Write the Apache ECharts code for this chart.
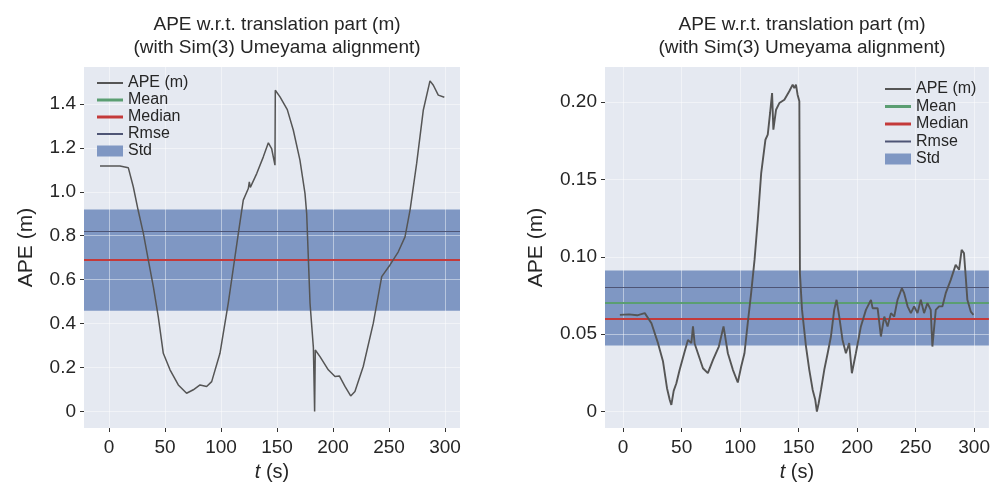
<!DOCTYPE html>
<html><head><meta charset="utf-8">
<script src="https://cdn.jsdelivr.net/npm/echarts@6/dist/echarts.min.js"></script>
<style>html,body{margin:0;padding:0;background:#fff}#c{width:993px;height:490px}</style>
</head><body><div id="c"></div>
<script>
// ---- data ----
const xTicks = [0, 50, 100, 150, 200, 250, 300];
const leftYTicks = [0, 0.2, 0.4, 0.6, 0.8, 1.0, 1.2, 1.4];
const rightYTicks = [0, 0.05, 0.10, 0.15, 0.20];
const legendNames = ['APE (m)', 'Mean', 'Median', 'Rmse', 'Std'];

const leftT = [-8, 9.8, 17.3, 21.7, 26, 30.7, 35.1, 39.6, 44, 48.5,
  54.5, 61.9, 69.3, 75.3, 81.3, 87.2, 91.7, 99.1, 106.5, 115.5,
  119.9, 124.4, 125.3, 126.2, 131.9, 137.8, 142.3, 145.2, 148.2, 148.5,
  152.7, 159.2, 164.6, 170.5, 175, 176.5, 179.5, 182.5, 183.6, 184.2,
  188.4, 195.8, 201.8, 205.7, 210.7, 215.8, 219.6, 227, 236, 243.5,
  250.9, 258.3, 264.3, 268.8, 274.7, 280.6, 286.6, 289.6, 294, 299.4];
const leftAPE = [1.117, 1.117, 1.109, 1.023, 0.917, 0.811, 0.69, 0.568, 0.432, 0.265,
  0.19, 0.121, 0.083, 0.099, 0.121, 0.114, 0.136, 0.265, 0.493, 0.811,
  0.962, 1.015, 1.045, 1.02, 1.083, 1.159, 1.223, 1.197, 1.121, 1.462,
  1.432, 1.374, 1.28, 1.144, 0.993, 0.902, 0.493, 0.29, 0.0, 0.28,
  0.25, 0.19, 0.159, 0.162, 0.114, 0.071, 0.091, 0.205, 0.402, 0.614,
  0.667, 0.727, 0.795, 0.917, 1.129, 1.371, 1.505, 1.485, 1.44, 1.43];
// mean, median, rmse, std
const leftStats = [0.6895, 0.688, 0.825, 0.2305];

const rightT = [-2.8, 5, 12, 18.5, 24.2, 29.8, 34.1, 37.5, 39.8, 41.2,
  43.2, 45.5, 48.3, 52.6, 55.4, 58.3, 59.7, 61.1, 63.9, 68.2,
  72.4, 76.8, 81.8, 85.8, 89.5, 93.8, 98, 100.9, 103.7, 106.5,
  109.4, 112.3, 115.1, 118, 121.6, 123.6, 125.6, 127.3, 128.4, 130.7,
  133.5, 137.8, 142, 144.9, 146.3, 147.7, 149.1, 150.6, 151.1, 152.9,
  156.3, 159.1, 162, 164.2, 165.6, 167.1, 169.1, 171.9, 174.8, 177.6,
  180.4, 182.4, 184.7, 187.5, 190.4, 193.2, 195.5, 198.9, 203.2, 207.5,
  211.8, 213.2, 217.5, 220.3, 223.2, 226, 228.9, 231.7, 234.5, 238.2,
  240.2, 243.1, 245.9, 248.7, 251.6, 254.4, 257.2, 260.1, 262.9, 264.3,
  265.8, 267.2, 270, 272.9, 275.7, 280, 284.2, 287.1, 289.3, 291.3,
  292.8, 294.2, 297.1, 299.4];
const rightAPE = [0.0625, 0.0628, 0.0622, 0.0636, 0.0571, 0.0442, 0.0323, 0.0151, 0.0076, 0.0043,
  0.0134, 0.0183, 0.027, 0.0388, 0.0463, 0.0442, 0.055, 0.044, 0.0377, 0.028,
  0.0248, 0.0334, 0.042, 0.055, 0.0377, 0.027, 0.0188, 0.0291, 0.0377, 0.0571,
  0.0765, 0.098, 0.1239, 0.1541, 0.1756, 0.1789, 0.1929, 0.2058, 0.1821, 0.195,
  0.1993, 0.2015, 0.2069, 0.2112, 0.209, 0.2112, 0.2047, 0.2004, 0.0894, 0.0657,
  0.042, 0.027, 0.014, 0.0076, 0.0, 0.0054, 0.014, 0.027, 0.0377, 0.0485,
  0.0657, 0.0722, 0.0614, 0.0463, 0.0377, 0.0442, 0.0248, 0.0377, 0.055, 0.0657,
  0.0722, 0.0668, 0.0668, 0.0485, 0.0614, 0.055, 0.0636, 0.0614, 0.0722, 0.0797,
  0.0765, 0.068, 0.0636, 0.068, 0.0636, 0.0722, 0.0636, 0.0701, 0.0657, 0.042,
  0.042, 0.0657, 0.068, 0.068, 0.0765, 0.0851, 0.0948, 0.0916, 0.1045, 0.1024,
  0.0872, 0.0722, 0.0646, 0.0625];
const rightStats = [0.0669, 0.0584, 0.0817, 0.0242];

// ---- style ----
const FONT = "'Liberation Sans', Arial, sans-serif";
const TXT = '#262626';
const C_APE = '#555555', C_MEAN = '#5b9e72', C_MED = '#c43a3a', C_RMSE = '#4e5575', C_STD = '#7f97c3';
const BG = '#e5e9f1';

const chart = echarts.init(document.getElementById('c'));

const panels = [
  {t: leftT, v: leftAPE, s: leftStats, yt: leftYTicks, dec: 1, left: 84, right: 533, xmin: -22.3, xmax: 313.4, ymin: -0.075, ymax: 1.568, nameGap: 47, cx: 272, lw: 1.5},
  {t: rightT, v: rightAPE, s: rightStats, yt: rightYTicks, dec: 2, left: 605, right: 3, xmin: -15.5, xmax: 312.6, ymin: -0.0106, ymax: 0.2226, nameGap: 58, cx: 797, lw: 1.9}
];

const grid = [], xAxis = [], yAxis = [], series = [], title = [], legend = [];
const thin = 'path://M0,0H26V2H0Z', thick = 'path://M0,0H26V3H0Z';

panels.forEach((p, i) => {
  grid.push({left: p.left, right: p.right, top: 67, bottom: 62, show: true, backgroundColor: BG, borderWidth: 0});
  xAxis.push({
    type: 'value', gridIndex: i, min: p.xmin, max: p.xmax,
    axisLine: {show: false, onZero: false}, splitLine: {show: false},
    axisTick: {show: true, customValues: xTicks, length: 4, lineStyle: {color: '#333', width: 1}},
    axisLabel: {customValues: xTicks, fontSize: 19, color: TXT, margin: 10, fontFamily: FONT},
    name: '{i|t} (s)', nameLocation: 'middle', nameGap: 34,
    nameTextStyle: {fontSize: 20, color: TXT, fontFamily: FONT, rich: {i: {fontStyle: 'italic', fontSize: 20, color: TXT, fontFamily: FONT}}}
  });
  yAxis.push({
    type: 'value', gridIndex: i, min: p.ymin, max: p.ymax,
    axisLine: {show: false, onZero: false}, splitLine: {show: false},
    axisTick: {show: true, customValues: p.yt, length: 4, lineStyle: {color: '#333', width: 1}},
    axisLabel: {customValues: p.yt, fontSize: 19, color: TXT, margin: 8, fontFamily: FONT,
      formatter: v => (Math.abs(v) < 1e-9 ? '0' : v.toFixed(p.dec))},
    name: 'APE (m)', nameLocation: 'middle', nameGap: p.nameGap, nameRotate: 90,
    nameTextStyle: {fontSize: 21, color: TXT, fontFamily: FONT}
  });
  title.push({
    text: 'APE w.r.t. translation part (m)\n(with Sim(3) Umeyama alignment)',
    left: p.cx, top: 8, textAlign: 'center',
    textStyle: {fontSize: 19, fontWeight: 'normal', color: TXT, lineHeight: 23, fontFamily: FONT}
  });
  const [mean, median, rmse, std] = p.s;
  // grid lines
  series.push({
    type: 'line', name: '_grid' + i, xAxisIndex: i, yAxisIndex: i, data: [], z: 1, silent: true,
    markLine: {silent: true, symbol: 'none', label: {show: false}, animation: false,
      lineStyle: {color: 'rgba(255,255,255,0.45)', width: 1, type: 'solid'},
      data: xTicks.map(x => ({xAxis: x})).concat(p.yt.map(y => ({yAxis: y})))}
  });
  series.push({
    type: 'line', name: 'Std', xAxisIndex: i, yAxisIndex: i, data: [], z: 2, color: C_STD,
    markArea: {silent: true, animation: false, itemStyle: {color: C_STD, opacity: 1},
      data: [[{yAxis: mean - std}, {yAxis: mean + std}]]}
  });
  const hl = (name, val, color, width) => ({
    type: 'line', name, xAxisIndex: i, yAxisIndex: i, data: [], z: 3, color,
    markLine: {silent: true, symbol: 'none', label: {show: false}, animation: false,
      lineStyle: {color, width, type: 'solid', opacity: 1}, data: [{yAxis: val}]}
  });
  series.push(hl('Mean', mean, C_MEAN, 2));
  series.push(hl('Rmse', rmse, C_RMSE, 1.2));
  series.push(hl('Median', median, C_MED, 2));
  series.push({
    type: 'line', name: 'APE (m)', xAxisIndex: i, yAxisIndex: i, z: 5, color: C_APE,
    showSymbol: false, symbol: 'none', animation: false,
    lineStyle: {color: C_APE, width: p.lw},
    data: p.t.map((t, k) => [t, p.v[k]])
  });
});

const legendData = [
  {name: 'APE (m)', icon: thin}, {name: 'Mean', icon: thick}, {name: 'Median', icon: thick},
  {name: 'Rmse', icon: thin}, {name: 'Std', icon: 'rect'}
];
const legendText = {fontSize: 16, lineHeight: 16, color: TXT, fontFamily: FONT};
legend.push({orient: 'vertical', left: 97, top: 75, padding: 0, itemWidth: 26, itemHeight: 11, itemGap: 1,
  data: legendData, selectedMode: false, textStyle: legendText, z: 10});
legend.push({orient: 'vertical', left: 885, top: 81, padding: 0, itemWidth: 26, itemHeight: 11, itemGap: 1.5,
  data: legendData, selectedMode: false, textStyle: legendText, z: 10});

chart.setOption({animation: false, backgroundColor: '#ffffff', title, grid, xAxis, yAxis, legend, series});
</script></body></html>
